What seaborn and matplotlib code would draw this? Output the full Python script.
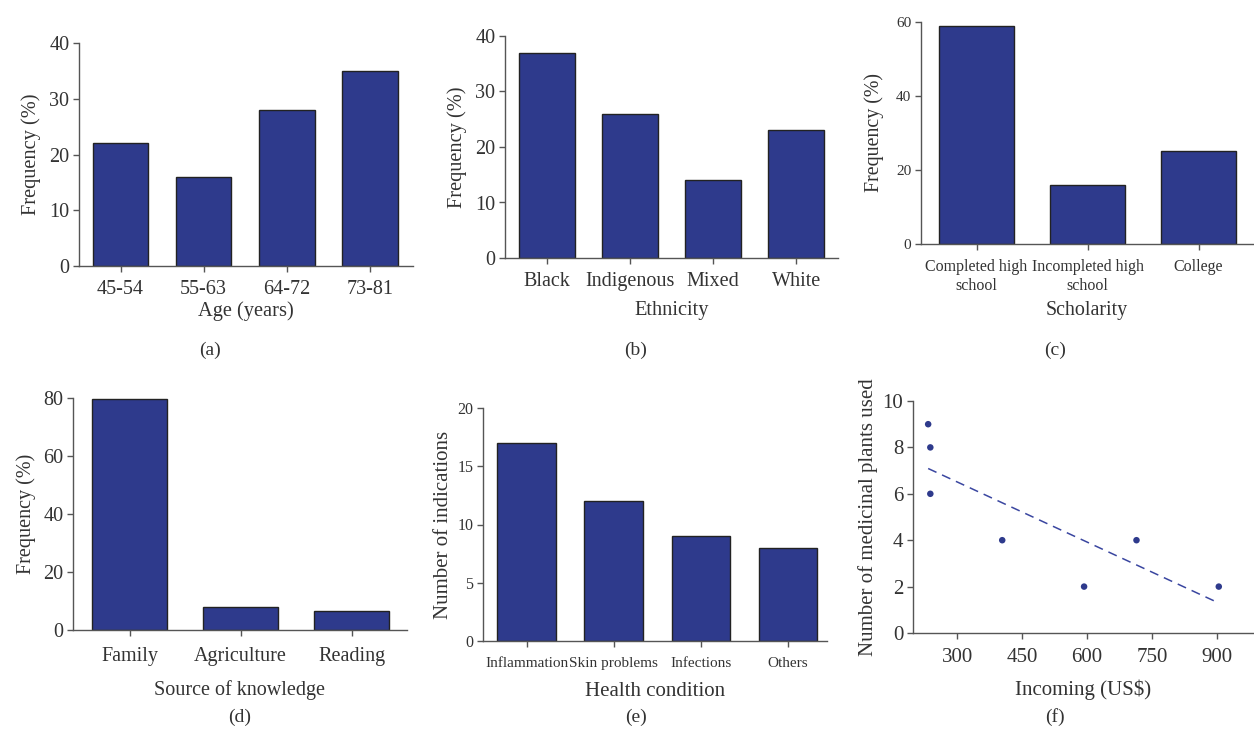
"""
Six-panel figure: demographic profile and medicinal plant use.
"""

import numpy as np
import pandas as pd
import matplotlib
matplotlib.use("Agg")
import matplotlib.pyplot as plt
import seaborn as sns

W, H = 1254, 735
BAR_COLOR = "#2e3a8c"
EDGE = "#222222"
SPINE = "#555555"

# (a) age
age_groups = ["45-54", "55-63", "64-72", "73-81"]
age_freq = [22, 16, 28, 35]

# (b) ethnicity
ethnicities = ["Black", "Indigenous", "Mixed", "White"]
ethnicity_freq = [37, 26, 14, 23]

# (c) scholarity
scholarity = ["Completed high\nschool", "Incompleted high\nschool", "College"]
scholarity_freq = [59, 16, 25]

# (d) source of knowledge
sources = ["Family", "Agriculture", "Reading"]
source_freq = [79.5, 8, 6.6]

# (e) health condition
conditions = ["Inflammation", "Skin problems", "Infections", "Others"]
indications = [17, 12, 9, 8]

# (f) income vs plants used
income = [233, 238, 238, 404, 593, 714, 904]
plants_used = [9, 8, 6, 4, 2, 4, 2]


def px_axes(fig, left, right, bottom, top):
    return fig.add_axes([left / W, (H - bottom) / H, (right - left) / W, (bottom - top) / H])


def style_axes(ax, tick_size, xpad):
    sns.despine(ax=ax)
    for s in ("left", "bottom"):
        ax.spines[s].set_color(SPINE)
        ax.spines[s].set_linewidth(1.0)
    ax.tick_params(axis="both", colors=SPINE, labelcolor="#333333",
                   labelsize=tick_size, length=4, width=1.0, pad=3)
    ax.tick_params(axis="x", pad=xpad)


def bar_panel(ax, cats, vals, ylim, yticks, xlim, tick_size, xtick_size=None, xpad=6):
    df = pd.DataFrame({"cat": cats, "val": vals})
    sns.barplot(data=df, x="cat", y="val", color=BAR_COLOR, saturation=1,
                edgecolor=EDGE, linewidth=1.0, width=0.67, ax=ax)
    ax.set_ylim(*ylim)
    ax.set_yticks(yticks)
    ax.set_xlim(*xlim)
    style_axes(ax, tick_size, xpad)
    if xtick_size:
        ax.tick_params(axis="x", labelsize=xtick_size)


sns.set_style("ticks")
plt.rcParams["font.family"] = ["Liberation Serif", "DejaVu Serif"]
plt.rcParams["text.color"] = "#333333"
plt.rcParams["axes.labelcolor"] = "#333333"

fig = plt.figure(figsize=(W / 100, H / 100), dpi=100)

# (a)
ax = px_axes(fig, 79, 413, 266, 43)
bar_panel(ax, age_groups, age_freq, (0, 40), range(0, 41, 10), (-0.5, 3.52), 14.5, xpad=6)
ax.set_xlabel("Age (years)", fontsize=14.7, labelpad=2)
ax.set_ylabel("Frequency (%)", fontsize=14.7, labelpad=6)
fig.text(210 / W, 1 - 350 / H, "(a)", ha="center", va="center", fontsize=14)

# (b)
ax = px_axes(fig, 505, 838, 258, 36)
bar_panel(ax, ethnicities, ethnicity_freq, (0, 40), range(0, 41, 10), (-0.5, 3.5), 14.5, xpad=6)
ax.set_xlabel("Ethnicity", fontsize=14.7, labelpad=7)
ax.set_ylabel("Frequency (%)", fontsize=14.7, labelpad=6)
fig.text(636 / W, 1 - 350 / H, "(b)", ha="center", va="center", fontsize=14)

# (c)
ax = px_axes(fig, 921, 1253, 244, 22)
bar_panel(ax, scholarity, scholarity_freq, (0, 60), range(0, 61, 20), (-0.5, 2.49), 11, 11.5, xpad=7)
ax.set_xlabel("Scholarity", fontsize=14.4, labelpad=5)
ax.set_ylabel("Frequency (%)", fontsize=14.4, labelpad=9)
fig.text(1055 / W, 1 - 350 / H, "(c)", ha="center", va="center", fontsize=14)

# (d)
ax = px_axes(fig, 73, 407, 630, 398)
bar_panel(ax, sources, source_freq, (0, 80), range(0, 81, 20), (-0.51, 2.5), 14.5, xpad=8.5)
ax.set_xlabel("Source of knowledge", fontsize=14.5, labelpad=10)
ax.set_ylabel("Frequency (%)", fontsize=14.5, labelpad=5)
fig.text(240 / W, 1 - 717 / H, "(d)", ha="center", va="center", fontsize=14)

# (e)
ax = px_axes(fig, 483, 827, 641, 408)
bar_panel(ax, conditions, indications, (0, 20), range(0, 21, 5), (-0.5, 3.45), 11.5, 11, xpad=7.5)
ax.set_xlabel("Health condition", fontsize=15, labelpad=9)
ax.set_ylabel("Number of indications", fontsize=15, labelpad=3)
fig.text(636 / W, 1 - 717 / H, "(e)", ha="center", va="center", fontsize=14)

# (f)
ax = px_axes(fig, 913, 1253, 633, 401)
inc = pd.DataFrame({"income": income, "plants": plants_used})
sns.scatterplot(data=inc, x="income", y="plants", color=BAR_COLOR, s=22,
                edgecolor="none", ax=ax)
sns.regplot(data=inc, x="income", y="plants", scatter=False, ci=None, ax=ax,
            line_kws={"color": "#3a46a0", "linestyle": (0, (6, 4)), "linewidth": 1.1})
ax.set_xlim(198, 983)
ax.set_ylim(0, 10)
ax.set_xticks([300, 450, 600, 750, 900])
ax.set_yticks(range(0, 11, 2))
style_axes(ax, 15, 7)
ax.set_xlabel("Incoming (US$)", fontsize=15, labelpad=9)
ax.set_ylabel("Number of medicinal plants used", fontsize=15, labelpad=3)
fig.text(1055 / W, 1 - 717 / H, "(f)", ha="center", va="center", fontsize=14)

fig.savefig("out.png", dpi=100)
